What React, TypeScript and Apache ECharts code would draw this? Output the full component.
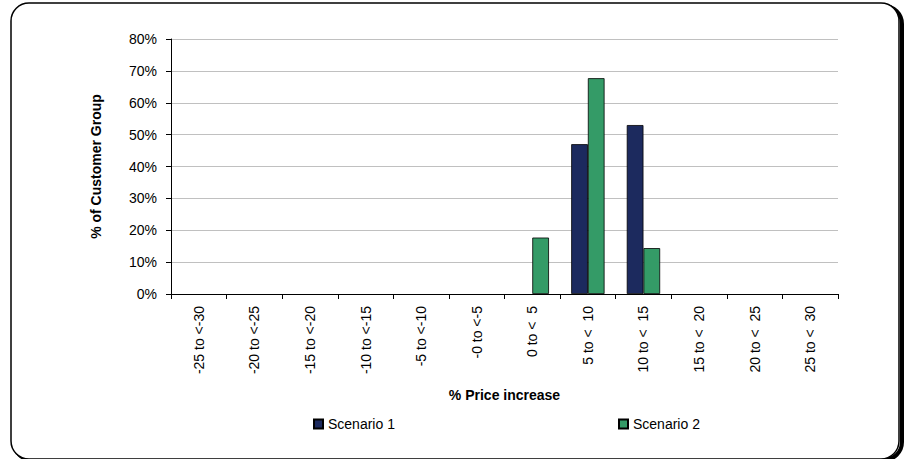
import React, { useEffect, useRef } from "react";
import * as echarts from "echarts";

const categories = [
  "-25 to <-30",
  "-20 to <-25",
  "-15 to <-20",
  "-10 to <-15",
  "-5 to <-10",
  "-0 to <-5",
  "0 to <  5",
  "5 to <  10",
  "10 to <  15",
  "15 to <  20",
  "20 to <  25",
  "25 to <  30",
];
const scenario1 = [0, 0, 0, 0, 0, 0, 0, 47, 53, 0, 0, 0];
const scenario2 = [0, 0, 0, 0, 0, 0, 17.7, 67.7, 14.4, 0, 0, 0];
const seriesNames = ["Scenario 1", "Scenario 2"];
const colors = ["#1c2a5e", "#349b67"];

const hideZero = (arr: number[]) => arr.map((v) => (v === 0 ? "-" : v));

export default function App() {
  const ref = useRef<HTMLDivElement>(null);
  useEffect(() => {
    document.body.style.margin = "0";
    const chart = echarts.init(ref.current!, null, { renderer: "svg" });
    const font = "Arial, 'Liberation Sans', sans-serif";
    const legendCommon = {
      top: 417,
      padding: 0,
      itemWidth: 9,
      itemHeight: 9,
      itemGap: 5,
      icon: "rect",
      textStyle: { fontSize: 14, color: "#000", fontFamily: font },
    };
    chart.setOption({
      animation: false,
      textStyle: { fontFamily: font },
      graphic: [
        {
          type: "rect",
          shape: { x: 14, y: 6, width: 888, height: 454, r: 18 },
          style: { fill: "none", stroke: "#000", lineWidth: 4 },
          z: -1,
        },
        {
          type: "rect",
          shape: { x: 11, y: 3, width: 888, height: 456, r: 18 },
          style: { fill: "#fff", stroke: "#000", lineWidth: 1.5 },
          z: -1,
        },
      ],
      legend: [
        { ...legendCommon, data: [seriesNames[0]], left: 313 },
        { ...legendCommon, data: [seriesNames[1]], left: 618 },
      ],
      grid: { left: 171, right: 68, top: 39, bottom: 165, containLabel: false },
      xAxis: {
        type: "category",
        data: categories,
        name: "% Price increase",
        nameLocation: "middle",
        nameGap: 94,
        nameTextStyle: { fontSize: 14, fontWeight: "bold", color: "#000", fontFamily: font },
        axisLine: { lineStyle: { color: "#000", width: 1 } },
        axisTick: { show: true, length: 5, lineStyle: { color: "#000" } },
        axisLabel: { rotate: 90, fontSize: 14, color: "#000", margin: 12, fontFamily: font },
        splitLine: { show: false },
      },
      yAxis: {
        type: "value",
        min: 0,
        max: 80,
        interval: 10,
        name: "% of Customer Group",
        nameLocation: "middle",
        nameGap: 68,
        nameRotate: 90,
        nameTextStyle: { fontSize: 14, fontWeight: "bold", color: "#000", fontFamily: font },
        axisLine: { show: true, lineStyle: { color: "#000", width: 1 } },
        axisTick: { show: true, length: 5, lineStyle: { color: "#000" } },
        axisLabel: { formatter: "{value}%", fontSize: 14, color: "#000", margin: 14, fontFamily: font },
        splitLine: { lineStyle: { color: "#c0c0c0", width: 1 } },
      },
      series: [
        {
          name: seriesNames[0],
          type: "bar",
          data: hideZero(scenario1),
          barGap: "0%",
          barCategoryGap: "40%",
          itemStyle: { color: colors[0], borderColor: "#000", borderWidth: 0.8 },
        },
        {
          name: seriesNames[1],
          type: "bar",
          data: hideZero(scenario2),
          barGap: "0%",
          barCategoryGap: "40%",
          itemStyle: { color: colors[1], borderColor: "#000", borderWidth: 0.8 },
        },
      ],
    });
    return () => chart.dispose();
  }, []);
  return <div ref={ref} style={{ width: 906, height: 459 }} />;
}
